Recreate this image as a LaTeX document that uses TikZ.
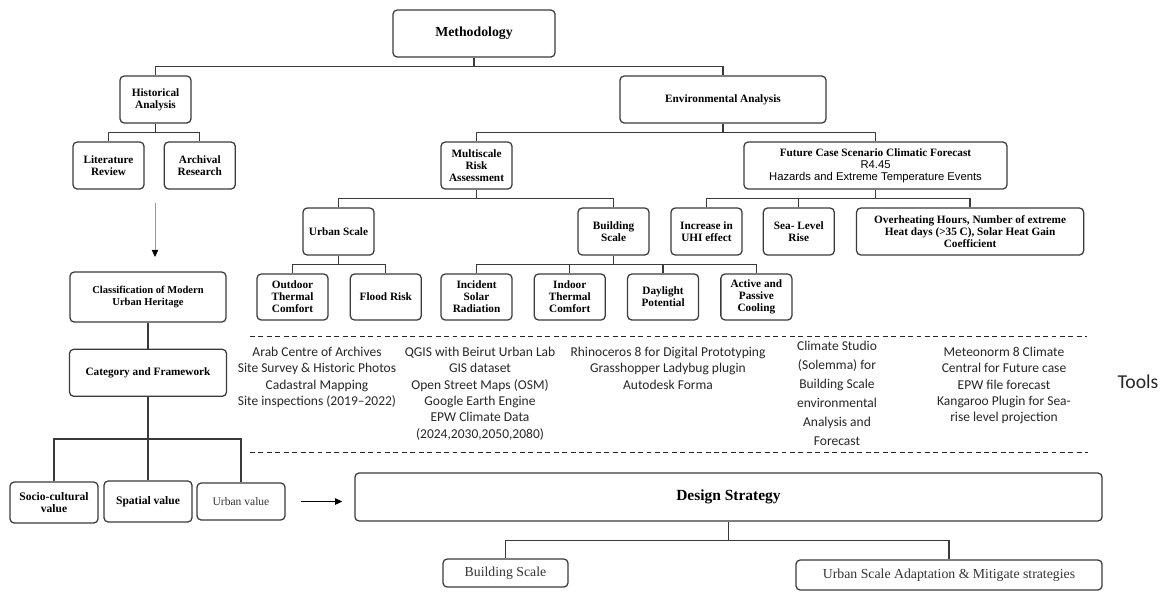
\documentclass[tikz,border=0pt]{standalone}
\usepackage{fontspec}
\setmainfont{Liberation Serif}
\newfontfamily\toolfont{Carlito}
\newfontfamily\hazfont{Liberation Sans}
\usetikzlibrary{positioning, calc, arrows.meta}
\definecolor{boxline}{HTML}{3A3A3A}
\definecolor{tooltext}{HTML}{262626}

\begin{document}
\begin{tikzpicture}[
    x=0.025cm, y=-0.025cm,
    align=center,
    font=\fontsize{8}{8.6}\selectfont\bfseries,
    box/.style={draw=boxline, rectangle, minimum width=1.775cm, minimum height=1.175cm, rounded corners=3pt, line width=0.9pt, inner sep=1pt, align=center},
    leaf/.style={box, minimum height=1.15cm},
    plain/.style={box, font=\fontsize{8.2}{9}\selectfont\mdseries, text=black!80},
    strat/.style={box, font=\fontsize{9.8}{10.5}\selectfont\mdseries, text=black!80},
    tool/.style={anchor=north, inner sep=0pt, text=tooltext, font=\toolfont\fontsize{9.6}{11.6}\selectfont},
    arrow/.style={-{Triangle[length=5pt, width=4.5pt]}, line width=0.6pt, draw=black},
    grayarrow/.style={-{Triangle[length=5pt, width=4.5pt, color=black]}, line width=0.6pt, draw=black!40},
    line/.style={line width=0.9pt, draw=boxline},
    sep/.style={line width=0.7pt, dash pattern=on 3.5pt off 2.5pt, draw=black!85}
]
    \useasboundingbox (0,0) rectangle (1168,600);

    % =========================================================================
    % TOP LEVEL
    % =========================================================================
    \node (meth) [box, minimum width=4.05cm, font=\fontsize{9.8}{11}\selectfont\bfseries] at (474, 33.5) {Methodology};

    % Historical branch
    \node (hist) [box] at (155.5, 99.5) {Historical\\Analysis};
    \node (lit) [box] at (108.5, 165.5) {Literature\\Review};
    \node (arch) [box, right=0.475cm of lit] {Archival\\Research};

    % Environmental branch
    \node (env) [box, minimum width=5.15cm] at (723, 99.5) {Environmental Analysis};
    \node (msr) [box] at (476.5, 165.5) {Multiscale\\Risk\\Assessment};
    \node (fut) [box, minimum width=6.575cm] at (875.5, 165.5) {Future Case Scenario Climatic Forecast\\{\hazfont\mdseries R4.45}\\{\hazfont\mdseries Hazards and Extreme Temperature Events}};

    % Scales
    \node (urb) [box] at (338.5, 231.5) {Urban Scale};
    \node (bld) [box] at (613.5, 231.5) {Building\\Scale};

    % Hazards
    \node (uhi) [box] at (706.5, 231.5) {Increase in\\UHI effect};
    \node (sea) [box, right=0.5cm of uhi] {Sea- Level\\Rise};
    \node (over) [box, minimum width=5.675cm, right=0.525cm of sea] {Overheating Hours, Number of extreme\\Heat days (>35 C), Solar Heat Gain\\Coefficient};

    % Leaves
    \node (outd) [leaf] at (292.5, 297) {Outdoor\\Thermal\\Comfort};
    \node (flood) [leaf, right=0.525cm of outd] {Flood Risk};
    \node (inc) [leaf] at (476.5, 297) {Incident\\Solar\\Radiation};
    \node (indo) [leaf, right=0.525cm of inc] {Indoor\\Thermal\\Comfort};
    \node (day) [leaf, right=0.525cm of indo] {Daylight\\Potential};
    \node (act) [leaf, right=0.525cm of day] {Active and\\Passive\\Cooling};

    % Connections
    \draw [line] (meth.south) -- ++(0,9) coordinate (meth_split) -| (hist.north);
    \draw [line] (meth_split) -| (env.north);
    \draw [line] (hist.south) -- ++(0,9) coordinate (hist_split) -| (lit.north);
    \draw [line] (hist_split) -| (arch.north);
    \draw [line] (env.south) -- ++(0,9) coordinate (env_split) -| (msr.north);
    \draw [line] (env_split) -| (fut.north);
    \draw [line] (msr.south) -- ++(0,9) coordinate (msr_split) -| (urb.north);
    \draw [line] (msr_split) -| (bld.north);
    \draw [line] (fut.south) -- ++(0,9) coordinate (fut_split) -| (uhi.north);
    \draw [line] (fut_split) -| (sea.north);
    \draw [line] (fut_split) -| (over.north);
    \draw [line] (urb.south) -- ++(0,9) coordinate (urb_split) -| (outd.north);
    \draw [line] (urb_split) -| (flood.north);
    \draw [line] (bld.south) -- ++(0,9) coordinate (bld_split) -| (inc.north);
    \draw [line] (bld_split) -| (indo.north);
    \draw [line] (bld_split) -| (day.north);
    \draw [line] (bld_split) -| (act.north);

    % =========================================================================
    % HERITAGE CLASSIFICATION
    % =========================================================================
    \coordinate (hist_arrow_top) at (155, 203);
    \coordinate (hist_arrow_tip) at (155, 257);
    \draw [grayarrow] (hist_arrow_top) -- (hist_arrow_tip);

    \node (class) [box, minimum width=3.9cm, minimum height=1.25cm, font=\fontsize{7.5}{8.4}\selectfont\bfseries] at (148, 297) {Classification of Modern\\Urban Heritage};
    \node (cat) [box, minimum width=3.925cm, below=0.65cm of class] {Category and Framework};

    \node (soc) [box, minimum width=2.2cm, minimum height=1.025cm, font=\fontsize{8.2}{9}\selectfont\bfseries] at (54, 502.5) {Socio-cultural\\value};
    \node (spa) [box, minimum width=2.2cm, minimum height=1.025cm, font=\fontsize{8.2}{9}\selectfont\bfseries] at (148, 501.5) {Spatial value};
    \node (urbv) [plain, minimum width=2.2cm, minimum height=0.925cm] at (241, 501.5) {Urban value};

    \draw [line] (class) -- (cat);
    \draw [line] (cat.south) -- ++(0,42) coordinate (cat_split) -| (soc.north);
    \draw [line] (cat_split) -- (spa.north);
    \draw [line] (cat_split) -| (urbv.north);

    % =========================================================================
    % TOOLS
    % =========================================================================
    \draw [sep] (250, 336) -- (1087, 336);
    \draw [sep] (250, 452) -- (1088, 452);

    \node (tools_arch) [tool] at (317, 347) {Arab Centre of Archives\\Site Survey \& Historic Photos\\Cadastral Mapping\\Site inspections (2019–2022)};
    \node (tools_gis) [tool] at (480, 347) {QGIS with Beirut Urban Lab\\GIS dataset\\Open Street Maps (OSM)\\Google Earth Engine\\EPW Climate Data\\(2024,2030,2050,2080)};
    \node (tools_rhino) [tool] at (668, 347) {Rhinoceros 8 for Digital Prototyping\\Grasshopper Ladybug plugin\\Autodesk Forma};
    \node (tools_cs) [tool, font=\toolfont\fontsize{9.6}{13.5}\selectfont] at (837, 341) {Climate Studio\\(Solemma) for\\Building Scale\\environmental\\Analysis and\\Forecast};
    \node (tools_met) [tool] at (1004, 347) {Meteonorm 8 Climate\\Central for Future case\\EPW file forecast\\Kangaroo Plugin for Sea-\\rise level projection};
    \node (tools_lbl) [text=tooltext, font=\toolfont\fontsize{14}{16}\selectfont] at (1138, 382) {Tools};

    % =========================================================================
    % DESIGN STRATEGY
    % =========================================================================
    \node (design) [box, minimum width=18.675cm, minimum height=1.2cm, font=\fontsize{11}{12}\selectfont\bfseries] at (728.5, 497) {Design Strategy};
    \node (bscale) [strat, minimum width=3.125cm, minimum height=0.7cm] at (505.5, 573) {Building Scale};
    \node (uscale) [strat, minimum width=7.65cm, minimum height=0.75cm] at (949, 575) {Urban Scale Adaptation \& Mitigate strategies};

    \draw [arrow, shorten <=0.375cm, shorten >=0.3cm] (urbv.east) -- (urbv.east -| design.west);
    \draw [line] (design.south) -- ++(0,19) coordinate (design_split) -| (bscale.north);
    \draw [line] (design_split) -| (uscale.north);

\end{tikzpicture}
\end{document}
